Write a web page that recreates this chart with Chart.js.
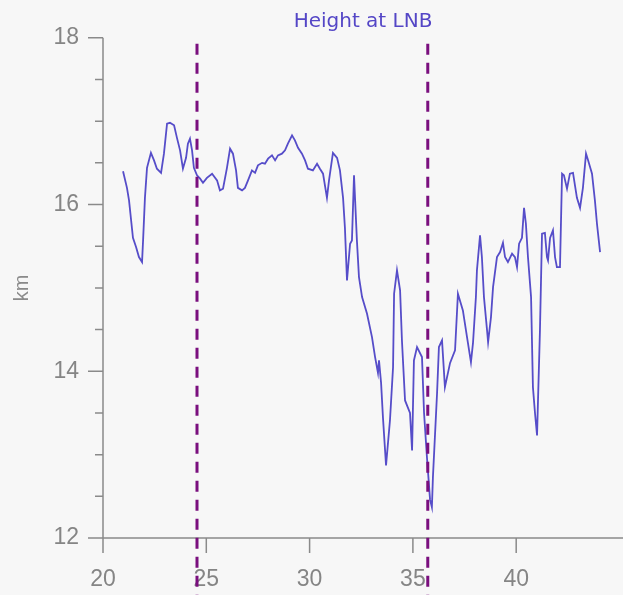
<!DOCTYPE html>
<html>
<head>
<meta charset="utf-8">
<script src="https://cdn.jsdelivr.net/npm/chart.js@4.4.0/dist/chart.umd.min.js"></script>
<style>
  html, body { margin: 0; padding: 0; background: #f7f7f7; }
  #wrap { width: 623px; height: 595px; }
</style>
</head>
<body>
<div id="wrap"><canvas id="chart" width="623" height="595"></canvas></div>
<script>
// Along-track position of each sample
const xValues = [
  20.97, 21.16, 21.26, 21.45, 21.60, 21.74, 21.89, 21.94, 22.03, 22.13,
  22.32, 22.47, 22.61, 22.81, 22.95, 23.10, 23.24, 23.44, 23.58, 23.73,
  23.87, 24.02, 24.11, 24.21, 24.31, 24.40, 24.55, 24.70, 24.84, 25.03,
  25.28, 25.52, 25.66, 25.81, 26.00, 26.15, 26.29, 26.44, 26.53, 26.73,
  26.87, 27.02, 27.21, 27.36, 27.50, 27.70, 27.84, 27.99, 28.18, 28.33,
  28.47, 28.66, 28.81, 28.95, 29.15, 29.29, 29.44, 29.63, 29.78, 29.92,
  30.16, 30.36, 30.50, 30.65, 30.84, 30.94, 31.13, 31.33, 31.47, 31.62,
  31.71, 31.81, 31.96, 32.05, 32.15, 32.29, 32.39, 32.54, 32.78, 33.02,
  33.17, 33.31, 33.36, 33.46, 33.55, 33.70, 33.89, 34.04, 34.09, 34.23,
  34.38, 34.47, 34.62, 34.86, 34.96, 35.05, 35.20, 35.44, 35.54, 35.68,
  35.83, 35.92, 35.97, 36.17, 36.26, 36.41, 36.55, 36.80, 37.04, 37.18,
  37.42, 37.62, 37.81, 37.91, 38.05, 38.10, 38.25, 38.34, 38.44, 38.59,
  38.64, 38.78, 38.88, 39.07, 39.22, 39.36, 39.46, 39.60, 39.80, 39.94,
  40.04, 40.14, 40.28, 40.38, 40.47, 40.57, 40.72, 40.81, 40.91, 41.01,
  41.06, 41.15, 41.25, 41.39, 41.49, 41.54, 41.64, 41.78, 41.88, 41.97,
  42.12, 42.22, 42.31, 42.46, 42.60, 42.75, 42.94, 43.09, 43.23, 43.38,
  43.48, 43.67, 43.81, 43.91, 44.06
];

// Height at the level of neutral buoyancy (km)
const heightKm = [
  16.40, 16.20, 16.05, 15.60, 15.49, 15.37, 15.31, 15.57, 16.08, 16.44,
  16.62, 16.53, 16.43, 16.38, 16.61, 16.97, 16.98, 16.95, 16.80, 16.65,
  16.43, 16.56, 16.73, 16.79, 16.65, 16.44, 16.35, 16.31, 16.26, 16.32,
  16.37, 16.29, 16.17, 16.19, 16.44, 16.67, 16.61, 16.41, 16.20, 16.17,
  16.20, 16.29, 16.41, 16.38, 16.47, 16.50, 16.49, 16.55, 16.59, 16.53,
  16.59, 16.61, 16.65, 16.73, 16.83, 16.77, 16.68, 16.61, 16.53, 16.43,
  16.41, 16.49, 16.43, 16.37, 16.08, 16.29, 16.62, 16.56, 16.41, 16.08,
  15.72, 15.09, 15.53, 15.57, 16.35, 15.57, 15.13, 14.89, 14.69, 14.41,
  14.17, 13.98, 14.13, 13.86, 13.45, 12.87, 13.41, 14.05, 14.93, 15.21,
  14.97, 14.37, 13.65, 13.50, 13.05, 14.13, 14.29, 14.17, 13.50, 12.97,
  12.46, 12.37, 12.73, 13.74, 14.29, 14.37, 13.81, 14.10, 14.25, 14.93,
  14.73, 14.41, 14.11, 14.34, 14.89, 15.21, 15.63, 15.37, 14.89, 14.49,
  14.35, 14.65, 15.01, 15.37, 15.43, 15.54, 15.37, 15.31, 15.41, 15.37,
  15.25, 15.53, 15.60, 15.96, 15.77, 15.37, 14.89, 13.81, 13.50, 13.23,
  13.69, 14.49, 15.65, 15.66, 15.37, 15.33, 15.60, 15.69, 15.37, 15.25,
  15.25, 16.37, 16.35, 16.19, 16.37, 16.38, 16.08, 15.96, 16.20, 16.61,
  16.53, 16.37, 16.05, 15.77, 15.43
];

const xTicks = [20, 25, 30, 35, 40];
const yTicks = [12, 14, 16, 18];
const yMinorTicks = [12.5, 13, 13.5, 14.5, 15, 15.5, 16.5, 17, 17.5];
// Positions of the two dashed reference lines
const markerX = [24.55, 35.72];

const AXIS_COLOR = '#8a8a8a';

const backgroundPlugin = {
  id: 'pageBackground',
  beforeDraw(chart) {
    const ctx = chart.ctx;
    ctx.save();
    ctx.fillStyle = '#f7f7f7';
    ctx.fillRect(0, 0, chart.width, chart.height);
    ctx.restore();
  }
};

// Axis lines with outward ticks (major + minor on y)
const axesPlugin = {
  id: 'axesFrame',
  afterDraw(chart) {
    const { ctx, chartArea: a, scales: { x, y } } = chart;
    ctx.save();
    ctx.strokeStyle = AXIS_COLOR;
    ctx.lineWidth = 1.5;
    ctx.beginPath();
    ctx.moveTo(a.left, a.top);
    ctx.lineTo(a.left, a.bottom);
    ctx.moveTo(a.left, a.bottom);
    ctx.lineTo(a.right, a.bottom);
    xTicks.forEach(v => {
      const px = x.getPixelForValue(v);
      ctx.moveTo(px, a.bottom);
      ctx.lineTo(px, a.bottom + 15);
    });
    yTicks.forEach(v => {
      const py = y.getPixelForValue(v);
      ctx.moveTo(a.left - 15, py);
      ctx.lineTo(a.left, py);
    });
    yMinorTicks.forEach(v => {
      const py = y.getPixelForValue(v);
      ctx.moveTo(a.left - 8, py);
      ctx.lineTo(a.left, py);
    });
    ctx.stroke();

    // dashed vertical markers, running down past the axis
    ctx.strokeStyle = '#7a0f7e';
    ctx.lineWidth = 3;
    ctx.setLineDash([11, 8]);
    markerX.forEach(v => {
      const px = x.getPixelForValue(v);
      ctx.beginPath();
      ctx.moveTo(px, a.top + 6);
      ctx.lineTo(px, chart.height);
      ctx.stroke();
    });
    ctx.restore();
  }
};

new Chart(document.getElementById('chart'), {
  type: 'scatter',
  data: {
    datasets: [{
      data: xValues.map((v, i) => ({ x: v, y: heightKm[i] })),
      showLine: true,
      borderColor: 'rgba(72, 62, 196, 0.92)',
      borderWidth: 1.8,
      pointRadius: 0,
      tension: 0
    }]
  },
  options: {
    responsive: false,
    animation: false,
    events: [],
    layout: { padding: 0 },
    plugins: {
      legend: { display: false },
      tooltip: { enabled: false },
      title: {
        display: true,
        text: 'Height at LNB',
        fullSize: false,
        color: '#5446c6',
        font: { family: 'DejaVu Sans', size: 20, weight: 'normal' },
        padding: { top: 9, bottom: 4 }
      }
    },
    scales: {
      x: {
        type: 'linear',
        min: 20,
        max: 45.17,
        grid: { display: false, drawTicks: false },
        border: { display: false },
        ticks: {
          padding: 28,
          color: '#858585',
          font: { family: 'Liberation Sans', size: 23 }
        },
        afterBuildTicks: s => { s.ticks = xTicks.map(v => ({ value: v })); },
        afterFit: s => { s.height = 57; }
      },
      y: {
        type: 'linear',
        min: 12,
        max: 18,
        grid: { display: false, drawTicks: false },
        border: { display: false },
        ticks: {
          padding: 24,
          color: '#858585',
          font: { family: 'Liberation Sans', size: 23 }
        },
        title: {
          display: true,
          text: 'km',
          color: '#8a8a8a',
          font: { family: 'Liberation Sans', size: 20 },
          padding: { top: 10, bottom: 0 }
        },
        afterBuildTicks: s => { s.ticks = yTicks.map(v => ({ value: v })); },
        afterFit: s => { s.width = 103; }
      }
    }
  },
  plugins: [backgroundPlugin, axesPlugin]
});
</script>
</body>
</html>
